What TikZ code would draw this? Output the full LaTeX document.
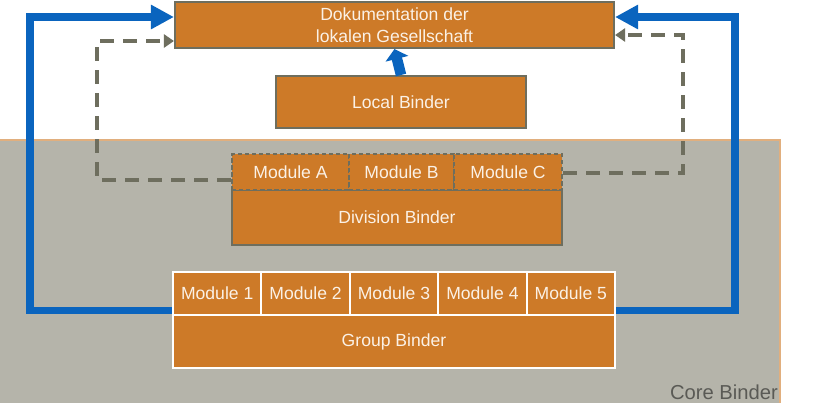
\documentclass[tikz,border=0pt]{standalone}
\usepackage{fontspec}
\setmainfont{Liberation Sans}
\usetikzlibrary{arrows.meta}

\definecolor{binderorange}{RGB}{205,122,40}
\definecolor{borderdark}{RGB}{110,110,94}
\definecolor{coregray}{RGB}{181,180,170}
\definecolor{flowblue}{RGB}{10,100,190}
\definecolor{textlight}{RGB}{251,241,230}
\definecolor{coretext}{RGB}{90,90,85}

\begin{document}
\begin{tikzpicture}[
    binder/.style={draw=borderdark, line width=1.2pt, fill=binderorange, text=textlight,
        font=\fontsize{10}{12.5}\selectfont, inner sep=0pt, align=center},
    modbox/.style={binder, dashed, dash pattern=on 2.5pt off 1.5pt, minimum height=0.72cm},
    groupbox/.style={binder, draw=white},
    blueflow/.style={draw=flowblue, line width=4pt, -{Triangle[length=0.46cm,width=0.46cm]}},
    grayflow/.style={draw=borderdark, line width=2.3pt, dash pattern=on 0.28cm off 0.18cm,
        -{Triangle[length=0.2cm,width=0.26cm]}}
]

    % Frame
    \useasboundingbox[fill=white] (0,0) rectangle (16.6,-8.1);

    % Core area
    \fill[coregray] (0,-2.80) rectangle (15.6,-8.06);
    \draw[binderorange!60, line width=0.6pt] (0,-2.80) -- (15.6,-2.80) -- (15.6,-8.06);
    \node[anchor=south east, text=coretext, font=\fontsize{11.5}{13}\selectfont, inner sep=1pt]
        (core) at (15.6,-8.04) {Core Binder};

    % Top box
    \node[binder, minimum width=8.78cm, minimum height=0.92cm] (doku) at (7.89,-0.50)
        {Dokumentation der\\lokalen Gesellschaft};

    % Local binder
    \node[binder, minimum width=5.0cm, minimum height=1.04cm] (local) at (8.02,-2.04) {Local Binder};

    % Division binder with modules
    \node[binder, minimum width=6.60cm, minimum height=1.10cm] (division) at (7.94,-4.35) {Division Binder};
    \node[modbox, minimum width=2.34cm] (modA) at (5.81,-3.44) {Module A};
    \node[modbox, minimum width=2.10cm] (modB) at (8.03,-3.44) {Module B};
    \node[modbox, minimum width=2.16cm] (modC) at (10.16,-3.44) {Module C};

    % Group binder with modules
    \node[groupbox, minimum width=8.84cm, minimum height=1.06cm] (group) at (7.88,-6.83) {Group Binder};
    \node[groupbox, minimum width=1.768cm, minimum height=0.86cm] (mod1) at (4.344,-5.87) {Module 1};
    \node[groupbox, minimum width=1.768cm, minimum height=0.86cm] (mod2) at (6.112,-5.87) {Module 2};
    \node[groupbox, minimum width=1.768cm, minimum height=0.86cm] (mod3) at (7.880,-5.87) {Module 3};
    \node[groupbox, minimum width=1.768cm, minimum height=0.86cm] (mod4) at (9.648,-5.87) {Module 4};
    \node[groupbox, minimum width=1.768cm, minimum height=0.86cm] (mod5) at (11.416,-5.87) {Module 5};

    % Corners of the feedback paths
    \coordinate (blueL) at (0.60,-0.34);
    \coordinate (blueR) at (14.70,-0.34);
    \coordinate (grayL) at (1.94,-0.82);
    \coordinate (grayR) at (13.66,-0.70);

    % Dashed paths from division modules
    \draw[grayflow] ([yshift=-4.5pt]modA.west) -| (grayL) -- (grayL -| doku.west);
    \draw[grayflow] ([yshift=-0.5pt]modC.east) -| (grayR) -- (grayR -| doku.east);

    % Blue paths from group modules
    \draw[blueflow] ([yshift=3pt]mod1.south west) -| (blueL) -- (blueL -| doku.west);
    \draw[blueflow] ([yshift=3pt]mod5.south east) -| (blueR) -- (blueR -| doku.east);

    % Local to top
    \draw[draw=flowblue, line width=6pt, -{Triangle[length=0.2cm,width=0.46cm]}]
        (local.north) -- (doku.south);

\end{tikzpicture}
\end{document}
